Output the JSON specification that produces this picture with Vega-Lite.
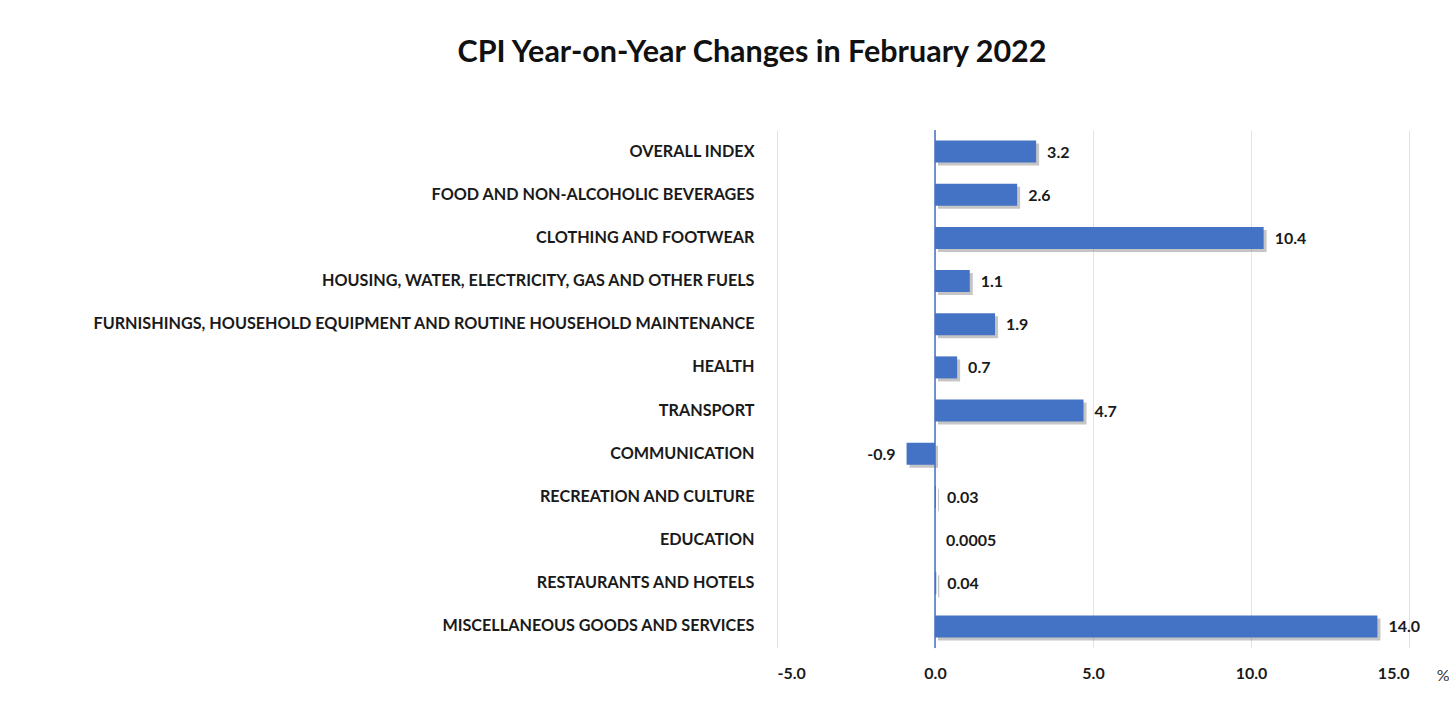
{
  "$schema": "https://vega.github.io/schema/vega-lite/v6.json",
  "autosize": {"type": "none"},
  "width": 632,
  "height": 518,
  "padding": {"left": 777, "top": 130, "right": 40, "bottom": 54},
  "background": "white",
  "config": {
    "view": {"stroke": null},
    "font": "Lato"
  },
  "title": {
    "text": "CPI Year-on-Year Changes in February 2022",
    "font": "Lato",
    "fontSize": 30.5,
    "fontWeight": "bold",
    "color": "#111111",
    "anchor": "middle",
    "dx": -341,
    "offset": 61
  },
  "data": {
    "values": [
      {"category": "OVERALL INDEX", "value": 3.2, "label": "3.2"},
      {"category": "FOOD AND NON-ALCOHOLIC BEVERAGES", "value": 2.6, "label": "2.6"},
      {"category": "CLOTHING AND FOOTWEAR", "value": 10.4, "label": "10.4"},
      {"category": "HOUSING, WATER, ELECTRICITY, GAS AND OTHER FUELS", "value": 1.1, "label": "1.1"},
      {"category": "FURNISHINGS, HOUSEHOLD EQUIPMENT AND ROUTINE HOUSEHOLD MAINTENANCE", "value": 1.9, "label": "1.9"},
      {"category": "HEALTH", "value": 0.7, "label": "0.7"},
      {"category": "TRANSPORT", "value": 4.7, "label": "4.7"},
      {"category": "COMMUNICATION", "value": -0.9, "label": "-0.9"},
      {"category": "RECREATION AND CULTURE", "value": 0.03, "label": "0.03"},
      {"category": "EDUCATION", "value": 0.0005, "label": "0.0005"},
      {"category": "RESTAURANTS AND HOTELS", "value": 0.04, "label": "0.04"},
      {"category": "MISCELLANEOUS GOODS AND SERVICES", "value": 14.0, "label": "14.0"}
    ]
  },
  "layer": [
    {
      "mark": {"type": "bar", "color": "#6e6e6e", "opacity": 0.4, "xOffset": 3, "yOffset": 3},
      "encoding": {
        "y": {
          "field": "category",
          "type": "nominal",
          "sort": null,
          "scale": {"paddingInner": 0.49, "paddingOuter": 0.245},
          "axis": {
            "title": null,
            "domain": false,
            "ticks": false,
            "labelFont": "Lato",
            "labelFontSize": 16.2,
            "labelFontWeight": "bold",
            "labelColor": "#1a1a1a",
            "labelPadding": 23,
            "labelLimit": 800
          }
        },
        "x": {
          "field": "value",
          "type": "quantitative",
          "scale": {"domain": [-5, 15], "nice": false},
          "axis": {
            "values": [-5, 0, 5, 10, 15],
            "labelExpr": "datum.value < 0 ? '-' + format(-datum.value, '.1f') : format(datum.value, '.1f')",
            "grid": true,
            "gridColor": "#e3e3e3",
            "gridWidth": 1,
            "domain": false,
            "ticks": false,
            "labelFont": "Lato",
            "labelFontSize": 16,
            "labelFontWeight": "bold",
            "labelColor": "#1a1a1a",
            "labelPadding": 17,
            "title": "%",
            "titleFont": "Lato",
            "titleFontSize": 16,
            "titleFontWeight": "normal",
            "titleColor": "#333333",
            "titleAnchor": "end",
            "titleX": 672,
            "titleY": 27,
            "titleBaseline": "middle"
          }
        }
      }
    },
    {
      "mark": {"type": "bar", "color": "#4472C4"},
      "encoding": {
        "y": {"field": "category", "type": "nominal", "sort": null},
        "x": {"field": "value", "type": "quantitative"}
      }
    },
    {
      "mark": {"type": "rule", "color": "#4472C4", "strokeWidth": 1.5},
      "data": {"values": [{"zero": 0}]},
      "encoding": {
        "x": {"field": "zero", "type": "quantitative"}
      }
    },
    {
      "mark": {
        "type": "text",
        "font": "Lato",
        "fontSize": 16,
        "fontWeight": "bold",
        "color": "#1a1a1a",
        "baseline": "middle",
        "align": {"expr": "datum.value < 0 ? 'right' : 'left'"},
        "dx": {"expr": "datum.value < 0 ? -11 : 11"},
        "dy": 1
      },
      "encoding": {
        "y": {"field": "category", "type": "nominal", "sort": null},
        "x": {"field": "value", "type": "quantitative"},
        "text": {"field": "label"}
      }
    }
  ]
}
